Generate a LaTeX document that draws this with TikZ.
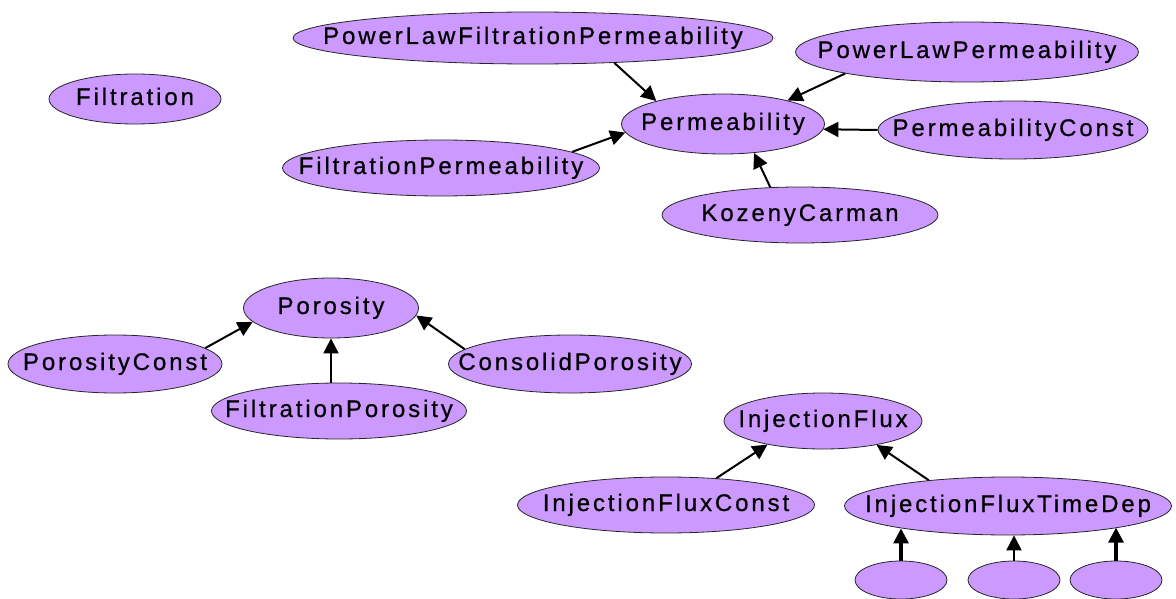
\documentclass[tikz,border=0pt]{standalone}
\usepackage{fontspec}
\setmainfont{Liberation Sans}[LetterSpace=12, FakeBold=0.6]
\usetikzlibrary{shapes.geometric,arrows.meta}
\definecolor{blobfill}{RGB}{204,153,255}
\newcommand{\nm}[1]{\hbox to 0pt{\hss#1\hss}}
\tikzset{
  blob/.style={ellipse, draw=black!85, line width=0.8pt, fill=blobfill, inner sep=0pt,
    minimum height=56pt, text height=17pt, text depth=5pt, font=\fontsize{24}{28}\selectfont},
  arr/.style={-{Triangle[length=15pt,width=15pt]}, line width=2pt},
  bigarr/.style={arr, line width=3.2pt}
}
\begin{document}
\begin{tikzpicture}[x=1pt, y=-1pt]
    \useasboundingbox (0,0) rectangle (1176,599);
    \node [blob, minimum width=172pt, minimum height=50pt] (filt) at (135,99) {\nm{Filtration}};
    \node [blob, minimum width=480pt, minimum height=52pt] (plfp) at (533,38) {\nm{PowerLawFiltrationPermeability}};
    \node [blob, minimum width=343pt, minimum height=60pt] (plp) at (967,52) {\nm{PowerLawPermeability}};
    \node [blob, minimum width=203pt, minimum height=60pt] (perm) at (723,124) {\nm{Permeability}};
    \node [blob, minimum width=270pt, minimum height=58pt] (pconst) at (1013,130) {\nm{PermeabilityConst}};
    \node [blob, minimum width=317pt] (fperm) at (441,168) {\nm{FiltrationPermeability}};
    \node [blob, minimum width=276pt] (kc) at (800,215) {\nm{KozenyCarman}};
    \node [blob, minimum width=175pt, minimum height=60pt] (por) at (331,308) {\nm{Porosity}};
    \node [blob, minimum width=214pt, minimum height=58pt] (pcst) at (115,364) {\nm{PorosityConst}};
    \node [blob, minimum width=243pt, minimum height=58pt] (cpor) at (570,364) {\nm{ConsolidPorosity}};
    \node [blob, minimum width=255pt] (fpor) at (339,411) {\nm{FiltrationPorosity}};
    \node [blob, minimum width=198pt] (ijf) at (823,421) {\nm{InjectionFlux}};
    \node [blob, minimum width=297pt] (ifc) at (666,505) {\nm{InjectionFluxConst}};
    \node [blob, minimum width=327pt, minimum height=58pt] (iftd) at (1008,506) {\nm{InjectionFluxTimeDep}};
    \node [blob, minimum width=92pt, minimum height=38pt] (s1) at (901,580) {};
    \node [blob, minimum width=92pt, minimum height=38pt] (s2) at (1014,580) {};
    \node [blob, minimum width=92pt, minimum height=38pt] (s3) at (1116,580) {};

    \draw [arr] (plfp.-17) -- (perm.161);
    \draw [arr] (plp.-170) -- (perm.20);
    \draw [arr] (pconst.west) -- (perm.-3);
    \draw [arr] (fperm.7) -- (perm.-175);
    \draw [arr] (kc.137) -- (perm.-43);
    \draw [arr] (pcst.10) -- (por.-170);
    \draw [arr] (por.south |- fpor.north) -- (por.south);
    \draw [arr] (cpor.172) -- (por.-5);
    \draw [arr] (ifc.28) -- (ijf.-157);
    \draw [arr] (iftd.162) -- (ijf.-24);
    \draw [bigarr] (s1.north) -- (s1.north |- iftd.-168.4);
    \draw [arr] (s2.north) -- (s2.north |- iftd.-78.3);
    \draw [bigarr] (s3.north) -- (s3.north |- iftd.-11.4);
\end{tikzpicture}
\end{document}
